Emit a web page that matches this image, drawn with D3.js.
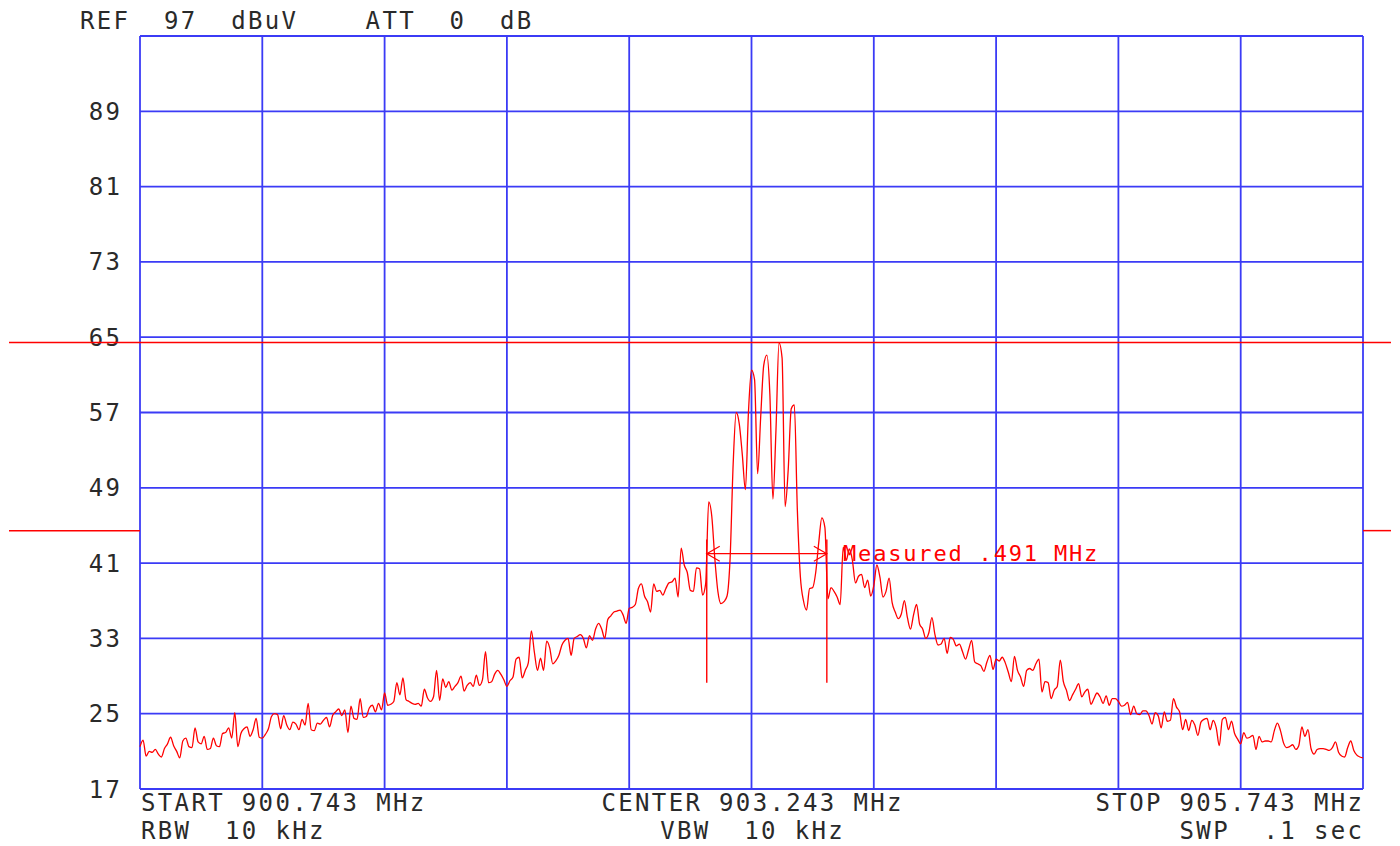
<!DOCTYPE html>
<html lang="en">
<head>
    <meta charset="UTF-8">
    <title>Spectrum</title>
    <style>
        body { margin: 0; background: #fff; }
        svg text { font-family: "DejaVu Sans Mono", monospace; white-space: pre; }
    </style>
</head>
<script src="https://cdn.jsdelivr.net/npm/d3@7"></script>
<body>
    <svg width="1400" height="846"></svg>
</body>

<script>
    // sweep settings and level scale (dBuV)
    var startFreq = 900.743, stopFreq = 905.743, centerFreq = 903.243;
    var refLevel = 97, bottomLevel = 17;
    var levelTicks = [89, 81, 73, 65, 57, 49, 41, 33, 25, 17];
    var freqDivs = 10;

    // trace, 401 points from start to stop
    var level = [
        21.5, 22.2, 20.5, 21.0, 20.9, 21.2, 20.7, 20.4, 21.3, 21.8,
        22.5, 21.6, 21.0, 20.3, 22.1, 22.4, 21.5, 21.4, 23.5, 22.0,
        21.8, 22.6, 21.2, 21.3, 22.4, 21.6, 21.5, 22.9, 23.0, 23.5,
        22.4, 25.1, 21.5, 22.9, 23.4, 23.6, 22.6, 23.3, 24.5, 22.5,
        22.4, 22.8, 23.4, 24.7, 25.0, 24.9, 23.4, 24.8, 23.8, 23.3,
        24.1, 23.9, 23.3, 24.4, 23.8, 26.1, 23.3, 23.2, 24.0, 23.9,
        24.3, 24.6, 23.6, 24.8, 25.2, 25.5, 24.8, 25.4, 23.0, 25.8,
        24.5, 24.4, 26.6, 24.6, 24.7, 25.6, 25.9, 25.2, 26.1, 25.4,
        27.2, 25.9, 26.0, 26.3, 28.3, 27.0, 28.8, 26.5, 26.3, 26.1,
        26.0, 26.1, 25.8, 27.6, 26.7, 26.3, 26.8, 29.6, 26.4, 28.7,
        27.8, 28.4, 27.5, 27.9, 28.3, 29.0, 27.4, 28.0, 28.3, 27.9,
        29.1, 28.0, 28.6, 31.6, 28.3, 28.4, 29.2, 29.6, 29.2, 28.6,
        27.9, 28.5, 28.9, 30.8, 31.0, 28.8, 29.6, 30.4, 33.8, 31.5,
        29.6, 30.9, 29.6, 32.7, 32.0, 30.3, 30.6, 31.2, 32.3, 32.8,
        33.0, 31.2, 33.0, 33.2, 33.4, 33.0, 32.0, 33.3, 32.8, 34.0,
        34.6, 34.0, 33.0, 35.0, 35.4, 35.8, 35.9, 36.0, 35.5, 34.6,
        36.2, 36.3, 36.6, 38.3, 38.8, 37.5, 36.9, 35.8, 38.8, 38.0,
        38.1, 37.6, 38.3, 38.9, 39.0, 39.4, 37.4, 42.6, 40.8, 40.0,
        38.1, 38.0, 40.5, 40.4, 37.6, 38.8, 47.5, 46.0, 41.5, 38.0,
        36.7, 36.9, 37.5, 41.5, 51.5, 57.0, 55.8, 52.5, 48.8, 57.0,
        61.5, 60.5, 50.5, 56.5, 62.0, 63.1, 59.0, 47.8, 55.1, 64.4,
        62.8, 47.0, 50.9, 57.4, 57.8, 46.6, 39.5, 37.0, 36.0, 38.3,
        38.4, 40.0, 43.2, 45.8, 44.8, 37.2, 38.4, 38.0, 37.4, 36.6,
        42.7, 41.3, 42.5, 41.3, 38.9, 39.6, 39.8, 38.4, 39.2, 37.5,
        38.6, 40.8, 39.5, 37.4, 38.0, 39.4, 36.8, 35.8, 35.1, 35.6,
        37.0, 35.2, 34.0, 35.5, 36.6, 34.5, 34.0, 33.0, 33.6, 35.2,
        33.4, 32.3, 32.4, 33.0, 31.4, 33.1, 32.9, 32.2, 32.4, 31.6,
        30.8, 31.8, 32.8, 30.5, 30.3, 30.1, 29.5, 30.5, 31.2, 29.7,
        30.8, 30.6, 31.0, 30.4, 29.4, 28.4, 31.1, 29.6, 28.9, 27.9,
        29.6, 29.8, 29.6, 30.3, 30.8, 27.3, 28.4, 28.3, 26.6, 27.5,
        27.9, 30.7, 28.4, 27.5, 26.4, 27.0, 27.6, 28.2, 26.8, 27.3,
        27.6, 26.0, 26.6, 27.2, 26.8, 26.1, 26.9, 25.9, 26.6, 26.6,
        26.3, 25.8, 25.9, 26.2, 24.9, 25.8, 25.0, 24.9, 25.3, 25.3,
        24.8, 23.9, 25.1, 24.8, 23.5, 25.2, 24.2, 24.3, 26.6, 25.7,
        25.2, 23.3, 24.4, 23.2, 24.3, 23.8, 22.7, 24.1, 24.4, 24.5,
        23.3, 24.3, 23.5, 21.6, 24.4, 24.6, 23.3, 24.2, 22.9, 22.3,
        21.8, 23.0, 22.4, 22.5, 22.7, 21.2, 22.6, 22.0, 22.1, 22.1,
        22.0, 23.2, 24.0, 23.2, 21.9, 21.4, 21.5, 21.7, 21.2, 21.6,
        23.6, 22.6, 23.3, 21.3, 20.7, 21.2, 21.3, 21.3, 21.2, 21.1,
        21.4, 22.0, 20.9, 20.5, 20.4, 21.4, 22.1, 21.1, 20.6, 20.4,
        20.3
    ];

    // bandwidth measurement markers
    var markerFreqs = [903.060, 903.551];
    var markerTop = 43.5, markerBottom = 28.3;
    var measureLevel = 42.0;
    var measureText = "Measured .491 MHz";
    var peakLine = 64.45, downLine = 44.45;

    // annotation text
    var headerText = "REF  97  dBuV    ATT  0  dB";
    var footLeft = ["START 900.743 MHz", "RBW  10 kHz"];
    var footMid = ["CENTER 903.243 MHz", "VBW  10 kHz"];
    var footRight = ["STOP 905.743 MHz", "SWP  .1 sec"];

    var plotL = 140, plotR = 1363, plotT = 36, plotB = 789;
    var pitch = 16.8;
    var blue = "#3b3bf6", red = "#ff0000", ink = "#2a2a2a";

    var svg = d3.select("svg");
    svg.append("rect").attr("width", 1400).attr("height", 846).attr("fill", "#fff");

    var x = d3.scaleLinear().domain([startFreq, stopFreq]).range([plotL, plotR]);
    var y = d3.scaleLinear().domain([bottomLevel, refLevel]).range([plotB, plotT]);
    var step = (stopFreq - startFreq) / (level.length - 1);

    // grid
    var gridFreqs = d3.range(freqDivs + 1).map(function(k) { return startFreq + k * (stopFreq - startFreq) / freqDivs; });
    var gridLevels = levelTicks.concat([refLevel]);
    svg.append("g").selectAll("line")
        .data(gridLevels)
        .join("line")
        .attr("x1", plotL).attr("x2", plotR)
        .attr("y1", function(d) { return y(d); })
        .attr("y2", function(d) { return y(d); })
        .attr("stroke", blue).attr("stroke-width", 1.8);
    svg.append("g").selectAll("line")
        .data(gridFreqs)
        .join("line")
        .attr("y1", plotT).attr("y2", plotB)
        .attr("x1", function(d) { return x(d); })
        .attr("x2", function(d) { return x(d); })
        .attr("stroke", blue).attr("stroke-width", 1.8);

    // level labels
    svg.append("g").selectAll("text")
        .data(levelTicks)
        .join("text")
        .attr("x", 120 - (2 * pitch - 2.35))
        .attr("y", function(d) { return y(d) + 8.5; })
        .attr("font-size", 24)
        .attr("letter-spacing", 2.35)
        .attr("fill", ink)
        .text(function(d) { return d; });

    // reference lines (peak and -20 dB)
    svg.append("line")
        .attr("x1", 9).attr("x2", 1391)
        .attr("y1", y(peakLine)).attr("y2", y(peakLine))
        .attr("stroke", red).attr("stroke-width", 1.5);
    svg.append("g").selectAll("line")
        .data([[9, plotL], [plotR, 1391]])
        .join("line")
        .attr("x1", function(d) { return d[0]; })
        .attr("x2", function(d) { return d[1]; })
        .attr("y1", y(downLine)).attr("y2", y(downLine))
        .attr("stroke", red).attr("stroke-width", 1.5);

    // trace
    var line = d3.line()
        .curve(d3.curveMonotoneX)
        .x(function(d, i) { return x(startFreq + i * step); })
        .y(function(d) { return y(d); });
    svg.append("path")
        .datum(level)
        .attr("d", line)
        .attr("fill", "none")
        .attr("stroke", red)
        .attr("stroke-width", 1.3)
        .attr("stroke-linejoin", "round");

    // markers + measurement arrow
    svg.append("g").selectAll("line")
        .data(markerFreqs)
        .join("line")
        .attr("x1", function(d) { return x(d); })
        .attr("x2", function(d) { return x(d); })
        .attr("y1", y(markerTop)).attr("y2", y(markerBottom))
        .attr("stroke", red).attr("stroke-width", 1.4);
    var ax1 = x(markerFreqs[0]), ax2 = x(markerFreqs[1]), ay = y(measureLevel);
    svg.append("line")
        .attr("x1", ax1).attr("x2", ax2).attr("y1", ay).attr("y2", ay)
        .attr("stroke", red).attr("stroke-width", 1.3);
    svg.append("path")
        .attr("d", "M" + (ax1 + 13) + "," + (ay - 7.5) + "L" + ax1 + "," + ay + "L" + (ax1 + 13) + "," + (ay + 7.5) +
                   "M" + (ax2 - 13) + "," + (ay - 7.5) + "L" + ax2 + "," + ay + "L" + (ax2 - 13) + "," + (ay + 7.5))
        .attr("fill", "none").attr("stroke", red).attr("stroke-width", 1.2);
    svg.append("text")
        .attr("x", 843).attr("y", 561)
        .attr("font-size", 22)
        .attr("letter-spacing", 1.82)
        .attr("fill", red)
        .text(measureText);

    // header and footer text
    function label(str, x0, y0) {
        svg.append("text")
            .attr("x", x0).attr("y", y0)
            .attr("font-size", 24)
            .attr("letter-spacing", 2.35)
            .attr("fill", ink)
            .text(str);
    }
    label(headerText, 80, 29);
    var rowY = [811, 839];
    footLeft.forEach(function(s, i) { label(s, 141, rowY[i]); });
    footMid.forEach(function(s, i) { label(s, x(centerFreq) - (s.length * pitch - 2.35) / 2, rowY[i]); });
    footRight.forEach(function(s, i) { label(s, 1362 - (s.length * pitch - 2.35), rowY[i]); });
</script>
</html>
